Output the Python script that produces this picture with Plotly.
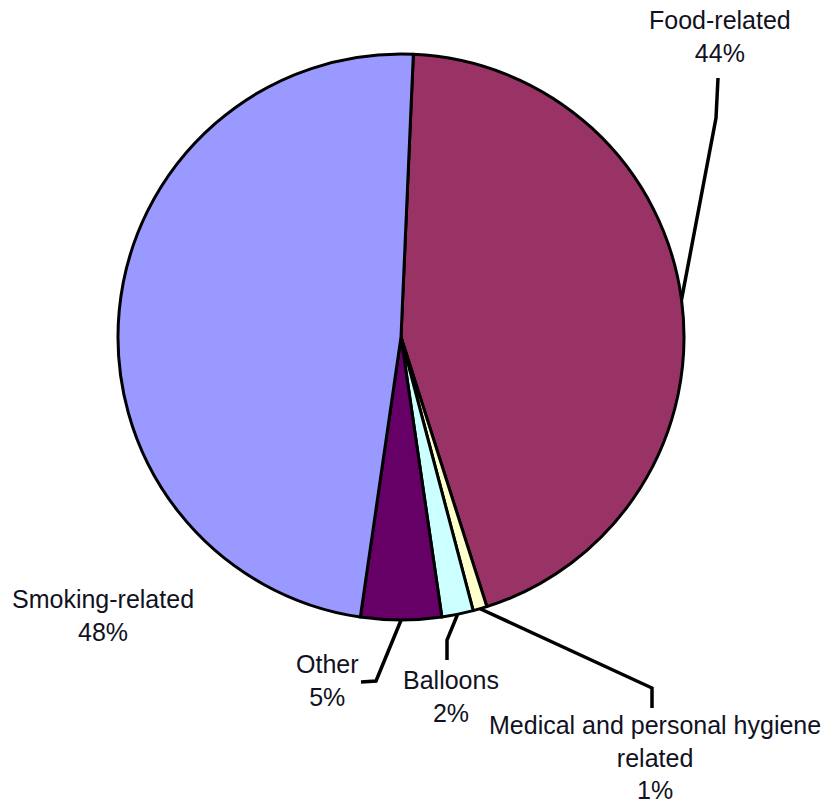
import math
import plotly.graph_objects as go

# ---- data ----
categories = ["Food-related", "Medical and personal hygiene related", "Balloons", "Other", "Smoking-related"]
label_text = ["Food-related", "Medical and personal hygiene<br>related", "Balloons", "Other", "Smoking-related"]
shares = [44.4, 0.8, 1.8, 4.6, 48.4]
colors = ["#993366", "#FFFFCC", "#CCFFFF", "#660066", "#9999FF"]

W, H = 827, 805
CX, CY, R = 401, 337, 283
ROT = 2.5

def px(x):
    return x / W

def py(y):
    return 1 - y / H

fig = go.Figure()
fig.add_trace(go.Pie(
    labels=categories,
    values=shares,
    sort=False,
    direction="clockwise",
    rotation=ROT,
    textinfo="none",
    hoverinfo="label+percent",
    marker=dict(colors=colors, line=dict(color="black", width=3)),
    domain=dict(x=[px(CX - R), px(CX + R)], y=[py(CY + R), py(CY - R)]),
    showlegend=False,
))

# label placement (layout) and leader-line bends (layout)
label_pos = {
    "Food-related": (720, 36),
    "Medical and personal hygiene related": (655, 757),
    "Balloons": (451, 696),
    "Other": (327, 680),
    "Smoking-related": (103, 615),
}
leader_bends = {
    "Food-related": [(716, 118), (718, 78)],
    "Medical and personal hygiene related": [(652, 688), (652, 708)],
    "Balloons": [(447, 640), (447, 660)],
    "Other": [(376, 681), (361, 682)],
    "Smoking-related": None,
}

total = sum(shares)
start = ROT
annotations = []
shapes = []
for cat, txt, v in zip(categories, label_text, shares):
    sweep = v / total * 360
    mid = math.radians(start + sweep / 2)
    start += sweep
    ex = CX + R * math.sin(mid)
    ey = CY - R * math.cos(mid)
    pct = f"{round(v / total * 100)}%"
    lx, ly = label_pos[cat]
    annotations.append(dict(
        x=px(lx), y=py(ly), xref="paper", yref="paper",
        text=f"{txt}<br>{pct}", showarrow=False,
        xanchor="center", yanchor="middle", align="center",
        font=dict(family="Liberation Sans, Arial, sans-serif", size=25, color="#111122"),
    ))
    bends = leader_bends[cat]
    if bends:
        pts = [(ex, ey)] + bends
        path = "M " + " L ".join(f"{px(x):.5f},{py(y):.5f}" for x, y in pts)
        shapes.append(dict(type="path", xref="paper", yref="paper", path=path,
                           line=dict(color="black", width=3.5)))

fig.update_layout(
    width=W, height=H,
    margin=dict(l=0, r=0, t=0, b=0),
    paper_bgcolor="white",
    plot_bgcolor="white",
    annotations=annotations,
    shapes=shapes,
)

fig.write_html(
    "out.html",
    config={"displayModeBar": False},
    post_script="document.body.style.margin='0px';document.body.style.overflow='hidden';",
)
